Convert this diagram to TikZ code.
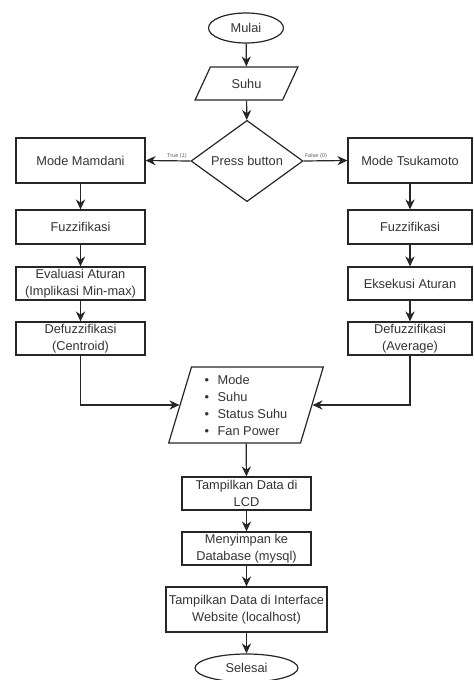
\documentclass[tikz,border=0pt]{standalone}
\usepackage{fontspec}
\setmainfont{Liberation Sans}
\usetikzlibrary{shapes.geometric,arrows.meta}

\tikzset{
  box/.style={draw=black!85, line width=0.6pt, rectangle, minimum width=64.5pt, minimum height=16.5pt,
    inner sep=1pt, align=center, text=black!80, font=\fontsize{6.4}{8.5}\selectfont},
  term/.style={draw=black!85, line width=0.6pt, ellipse, inner sep=0pt, text=black!80,
    font=\fontsize{6.4}{8.5}\selectfont},
  inout/.style={draw=black!85, line width=0.6pt, trapezium, trapezium stretches=true, inner sep=0pt,
    text=black!80, font=\fontsize{6.4}{8.5}\selectfont},
  decide/.style={draw=black!85, line width=0.6pt, diamond, inner sep=0pt, text=black!80,
    font=\fontsize{6.4}{8.5}\selectfont},
  flow/.style={draw=black!85, line width=0.6pt, -{Stealth[length=5pt,width=4.6pt]}},
  lbl/.style={font=\fontsize{2.8}{3}\selectfont, text=black!60, inner sep=1pt}
}

\begin{document}
\begin{tikzpicture}[x=0.5pt, y=-0.5pt]
			%%%%% START %%%%%
			\useasboundingbox (0, 0) rectangle (473, 680);
			
			\node[term, minimum width=37.5pt, minimum height=15pt] (mulai) at (246, 28) {Mulai};
			\node[inout, trapezium left angle=56, trapezium right angle=124, minimum width=51.5pt, minimum height=16.5pt] (suhu) at (246.5, 83.5) {Suhu};
			\node[decide, minimum width=56pt, minimum height=38.5pt] (press) at (247, 161) {Press button};
			
			\node[box, minimum height=22.5pt] (mamdani) at (80.5, 160.5) {Mode Mamdani};
			\node[box, minimum height=17pt] (fuzL) at (80.5, 227) {Fuzzifikasi};
			\node[box] (evalL) at (80.5, 283.5) {Evaluasi Aturan\\(Implikasi Min-max)};
			\node[box] (defL) at (80.5, 338.5) {Defuzzifikasi\\(Centroid)};
			
			\node[box, minimum width=62pt, minimum height=22.5pt] (tsukamoto) at (410, 160.5) {Mode Tsukamoto};
			\node[box, minimum width=62pt, minimum height=17pt] (fuzR) at (410, 227) {Fuzzifikasi};
			\node[box, minimum width=62pt] (eksR) at (410, 283.5) {Eksekusi Aturan};
			\node[box, minimum width=62pt] (defR) at (410, 338.5) {Defuzzifikasi\\(Average)};
			
			\node[inout, trapezium left angle=74, trapezium right angle=106, minimum width=77.5pt, minimum height=38pt, align=left] (data) at (246, 405)
			{\makebox[6.5pt][l]{\textbullet}Mode\\\makebox[6.5pt][l]{\textbullet}Suhu\\\makebox[6.5pt][l]{\textbullet}Status Suhu\\\makebox[6.5pt][l]{\textbullet}Fan Power};
			
			\node[box] (lcd) at (246.5, 493.5) {Tampilkan Data di\\LCD};
			\node[box] (db) at (246.5, 548.5) {Menyimpan ke\\Database (mysql)};
			\node[box, minimum width=80.5pt, minimum height=22.5pt] (web) at (246.5, 609.5) {Tampilkan Data di Interface\\Website (localhost)};
			\node[term, minimum width=51.5pt, minimum height=14pt] (selesai) at (246.5, 668) {Selesai};
			
			\draw[flow] (mulai) -- (suhu);
			\draw[flow] (suhu) -- (press);
			\draw[flow] (press.west) -- node[lbl, above, pos=0.3] {True (1)} (mamdani.east);
			\draw[flow] (press.east) -- node[lbl, above, pos=0.28] {False (0)} (tsukamoto.west);
			
			\draw[flow] (mamdani) -- (fuzL);
			\draw[flow] (fuzL) -- (evalL);
			\draw[flow] (evalL) -- (defL);
			\draw[flow] (tsukamoto) -- (fuzR);
			\draw[flow] (fuzR) -- (eksR);
			\draw[flow] (eksR) -- (defR);
			
			\draw[flow] (defL.south) |- (data.west);
			\draw[flow] (defR.south) |- (data.east);
			
			\draw[flow] (data) -- (lcd);
			\draw[flow] (lcd) -- (db);
			\draw[flow] (db) -- (web);
			\draw[flow] (web) -- (selesai);
			
			%%%%% END %%%%%
\end{tikzpicture}
\end{document}
